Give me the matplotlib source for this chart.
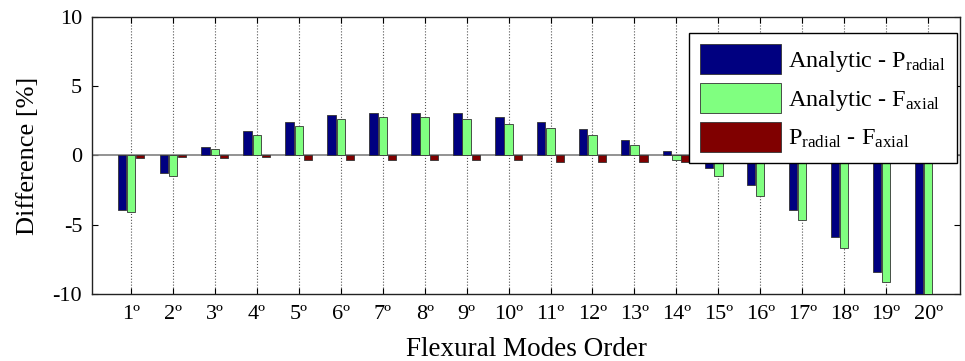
import numpy as np
import matplotlib
matplotlib.use("Agg")
import matplotlib.pyplot as plt

plt.rcParams['font.family'] = ['Liberation Serif', 'DejaVu Serif']
plt.rcParams['mathtext.fontset'] = 'custom'
plt.rcParams['mathtext.rm'] = 'Liberation Serif'
plt.rcParams['mathtext.it'] = 'Liberation Serif:italic'
plt.rcParams['axes.unicode_minus'] = False

# modos de flexion 1..20
modes = np.arange(1, 21)
mode_labels = [str(m) + "\u00ba" for m in modes]

# diferencias en %
analytic_radial = [-3.9, -1.3, 0.6, 1.75, 2.45, 2.9, 3.05, 3.05, 3.05, 2.75,
                   2.45, 1.9, 1.15, 0.3, -0.9, -2.15, -3.9, -5.9, -8.4, -10.9]
analytic_axial = [-4.05, -1.45, 0.45, 1.45, 2.15, 2.6, 2.75, 2.75, 2.6, 2.3,
                  2.0, 1.45, 0.75, -0.3, -1.45, -2.9, -4.65, -6.65, -9.1, -11.6]
radial_axial = [-0.15, -0.1, -0.15, -0.12, -0.3, -0.3, -0.3, -0.3, -0.3, -0.3,
                -0.45, -0.45, -0.45, -0.45, -0.5, -0.5, -0.5, -0.5, -0.5, -0.5]

y_ticks = [-10, -5, 0, 5, 10]
y_tick_labels = ['-10', '-5', '0', '5', '10']

fig = plt.figure(figsize=(9.65, 3.61), dpi=100)
ax = fig.add_axes([0.0953, 0.1856, 0.8995, 0.7674])

w = 0.2
off = 0.22
ax.bar(modes - off, analytic_radial, w, color='#000080', edgecolor='#333333',
       linewidth=0.6, label=r'Analytic - P$_{\mathrm{radial}}$', zorder=3)
ax.bar(modes, analytic_axial, w, color='#80ff80', edgecolor='#333333',
       linewidth=0.6, label=r'Analytic - F$_{\mathrm{axial}}$', zorder=3)
ax.bar(modes + off, radial_axial, w, color='#800000', edgecolor='#333333',
       linewidth=0.6, label=r'P$_{\mathrm{radial}}$ - F$_{\mathrm{axial}}$', zorder=3)

ax.axhline(0, color='#808080', linewidth=1.2, zorder=2)

ax.set_xlim(0.07, 20.76)
ax.set_ylim(-10, 10)
ax.set_xticks(modes)
ax.set_xticklabels(mode_labels)
ax.set_yticks(y_ticks)
ax.set_yticklabels(y_tick_labels)

ax.xaxis.grid(True, linestyle=':', color='#555555', linewidth=0.8)
ax.set_axisbelow(True)

ax.tick_params(axis='both', direction='in', top=True, right=True,
               length=4, width=0.8, labelsize=16)
ax.tick_params(axis='x', pad=8)
ax.tick_params(axis='y', pad=7)
for s in ax.spines.values():
    s.set_linewidth(1.0)
    s.set_color('#222222')

ax.set_xlabel('Flexural Modes Order', fontsize=19.5, labelpad=9)
ax.set_ylabel('Difference [%]', fontsize=19, labelpad=10)

leg = ax.legend(loc='upper right', bbox_to_anchor=(0.9965, 0.942),
                borderaxespad=0, fontsize=17.5, fancybox=False, framealpha=1,
                edgecolor='black', handlelength=3.3, handleheight=1.5,
                labelspacing=0.38, handletextpad=0.32, borderpad=0.45)
leg.get_frame().set_linewidth(1.0)
leg.set_zorder(5)

fig.savefig('out.png', dpi=100)
